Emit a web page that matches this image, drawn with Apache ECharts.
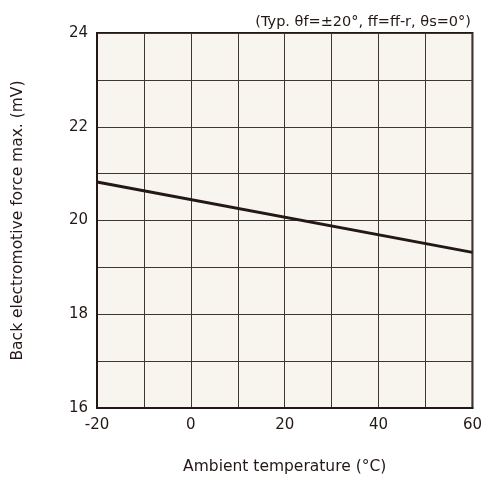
<!DOCTYPE html>
<html>
<head>
<meta charset="utf-8">
<script src="https://cdn.jsdelivr.net/npm/echarts@6/dist/echarts.min.js"></script>
<style>
  html, body { margin: 0; padding: 0; background: #fff; }
  #main { width: 485px; height: 480px; }
</style>
</head>
<body>
<div id="main"></div>
<script>
// temperature (°C) and back EMF max (mV)
var temps = [-20, 60];
var emf = [20.82, 19.32];

var ink = '#231815';
var font = 'DejaVu Sans';

var chart = echarts.init(document.getElementById('main'));

var option = {
  animation: false,
  textStyle: { fontFamily: font },
  title: {
    text: '(Typ. θf=±20°, ff=ff-r, θs=0°)',
    right: 9,
    top: 10,
    textStyle: { fontSize: 14.5, fontWeight: 'normal', color: ink, fontFamily: font }
  },
  grid: {
    left: 97, right: 10, top: 33, bottom: 70,
    show: true,
    backgroundColor: '#f7f5ee',
    borderColor: ink,
    borderWidth: 2
  },
  xAxis: {
    type: 'value',
    min: -20, max: 60, interval: 20,
    name: 'Ambient temperature (°C)',
    nameLocation: 'middle',
    nameGap: 51,
    nameTextStyle: { fontSize: 15.5, color: ink },
    axisLine: { show: true, onZero: false, lineStyle: { color: ink, width: 2 } },
    axisTick: { show: false },
    axisLabel: { fontSize: 15, color: ink, margin: 10 },
    splitLine: { show: true, lineStyle: { color: '#40362f', width: 1 } },
    minorTick: { show: false, splitNumber: 2 },
    minorSplitLine: { show: true, lineStyle: { color: '#40362f', width: 1 } }
  },
  yAxis: {
    type: 'value',
    min: 16, max: 24, interval: 2,
    name: 'Back electromotive force max. (mV)',
    nameLocation: 'middle',
    nameGap: 71,
    nameTextStyle: { fontSize: 15.5, color: ink },
    axisLine: { show: true, onZero: false, lineStyle: { color: ink, width: 2 } },
    axisTick: { show: false },
    axisLabel: { fontSize: 15, color: ink, margin: 9 },
    splitLine: { show: true, lineStyle: { color: '#40362f', width: 1 } },
    minorTick: { show: false, splitNumber: 2 },
    minorSplitLine: { show: true, lineStyle: { color: '#40362f', width: 1 } }
  },
  series: [{
    type: 'line',
    data: temps.map(function (t, i) { return [t, emf[i]]; }),
    symbol: 'none',
    lineStyle: { color: ink, width: 3 }
  }]
};

chart.setOption(option);
</script>
</body>
</html>
